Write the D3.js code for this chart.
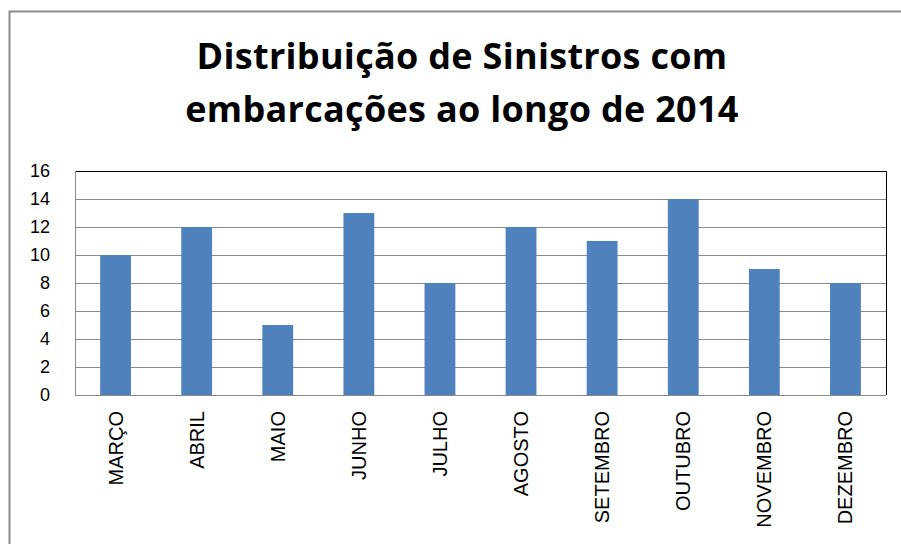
<!DOCTYPE html>
<html>
<head>
<meta charset="utf-8">
<script src="https://cdn.jsdelivr.net/npm/d3@7"></script>
<style>
	body { margin: 0; background: #fff; }
	svg { display: block; }
</style>
</head>
<body>
<div id="chart"></div>
<script>

var months = ['MARÇO','ABRIL','MAIO','JUNHO','JULHO','AGOSTO','SETEMBRO','OUTUBRO','NOVEMBRO','DEZEMBRO'];
var sinistros = [10, 12, 5, 13, 8, 12, 11, 14, 9, 8];
var yTicks = [0, 2, 4, 6, 8, 10, 12, 14, 16];
var titleLines = ['Distribuição de Sinistros com', 'embarcações ao longo de 2014'];

var w = 901;
var h = 544;
var plot = {left: 75, top: 171, right: 886, bottom: 395};

var svg = d3.select('#chart')
	.append('svg')
	.attr('width', w)
	.attr('height', h);

// outer chart frame
svg.append('rect')
	.attr('x', 9.5)
	.attr('y', 11.5)
	.attr('width', 905)
	.attr('height', 545)
	.attr('fill', 'none')
	.attr('stroke', '#8c8c8c')
	.attr('stroke-width', 2);

svg.selectAll('text.title')
	.data(titleLines)
	.enter()
	.append('text')
	.attr('class', 'title')
	.attr('x', 462)
	.attr('y', function(d, i){ return 69 + i * 53 })
	.attr('text-anchor', 'middle')
	.attr('font-family', 'Open Sans, sans-serif')
	.attr('font-weight', 'bold')
	.attr('font-size', 36)
	.attr('letter-spacing', 0.3)
	.attr('fill', '#000')
	.text(function(d){ return d });

var x = d3.scaleBand()
	.domain(months)
	.range([plot.left, plot.right])
	.paddingInner(0.62)
	.paddingOuter(0.31);

var y = d3.scaleLinear()
	.domain([0, 16])
	.range([plot.bottom, plot.top]);

// gridlines
svg.append('g')
	.selectAll('line')
	.data(yTicks)
	.enter()
	.append('line')
	.attr('x1', plot.left)
	.attr('x2', plot.right)
	.attr('y1', function(d){ return Math.round(y(d)) + 0.5 })
	.attr('y2', function(d){ return Math.round(y(d)) + 0.5 })
	.attr('stroke', function(d){ return d == 16 ? '#000' : '#8a8a8a' })
	.attr('stroke-width', 1);

svg.append('line')
	.attr('x1', plot.left + 0.5).attr('x2', plot.left + 0.5)
	.attr('y1', plot.top).attr('y2', plot.bottom)
	.attr('stroke', '#8a8a8a');

svg.append('line')
	.attr('x1', plot.right + 0.5).attr('x2', plot.right + 0.5)
	.attr('y1', plot.top).attr('y2', plot.bottom)
	.attr('stroke', '#000');

svg.selectAll('rect.bar')
	.data(sinistros)
	.enter()
	.append('rect')
	.attr('class', 'bar')
	.attr('x', function(d, i){ return x(months[i]) })
	.attr('y', function(d){ return y(d) })
	.attr('width', x.bandwidth())
	.attr('height', function(d){ return y(0) - y(d) })
	.attr('fill', '#4f81bd');

var yAxis = d3.axisLeft(y).tickValues(yTicks).tickSize(0).tickPadding(0);
var yg = svg.append('g')
	.attr('transform', 'translate(50,0)')
	.call(yAxis);
yg.select('.domain').remove();
yg.selectAll('text')
	.attr('font-family', 'Liberation Sans, Arial, sans-serif')
	.attr('font-size', 18)
	.attr('fill', '#000');

var xg = svg.append('g')
	.attr('transform', 'translate(0,' + plot.bottom + ')')
	.call(d3.axisBottom(x).tickSize(0));
xg.select('.domain').remove();
xg.selectAll('text')
	.attr('font-family', 'Liberation Sans, Arial, sans-serif')
	.attr('font-size', 20)
	.attr('fill', '#000')
	.attr('text-anchor', 'end')
	.attr('dy', '0.35em')
	.attr('transform', 'translate(0,16) rotate(-90)')
	.attr('y', 0)
	.attr('x', 0);

</script>
</body>
</html>
